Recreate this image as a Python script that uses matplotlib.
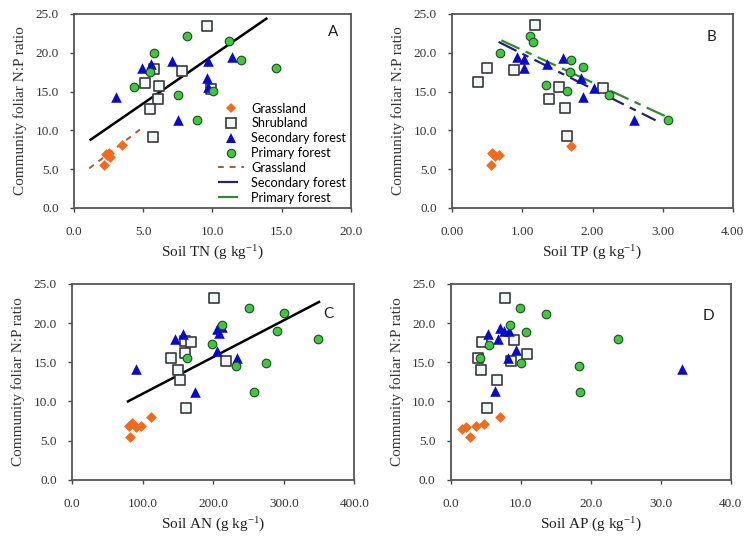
import matplotlib.pyplot as plt
from matplotlib.ticker import FormatStrFormatter
from matplotlib.lines import Line2D

plt.rcParams['font.family'] = ['Liberation Serif', 'DejaVu Serif']
plt.rcParams['mathtext.fontset'] = 'custom'
plt.rcParams['mathtext.rm'] = 'Liberation Serif'
plt.rcParams['mathtext.it'] = 'Liberation Serif:italic'

# panel A - soil TN
a_grass_x = [2.2, 2.3, 2.5, 2.6, 2.4, 3.5]
a_grass_y = [5.5, 6.9, 7.1, 6.6, 6.8, 8.1]
a_shrub_x = [9.6, 5.8, 7.8, 5.1, 6.15, 6.1, 5.5, 5.7, 9.9]
a_shrub_y = [23.4, 17.9, 17.7, 16.1, 15.7, 14.0, 12.8, 9.2, 15.3]
a_sec_x = [3.0, 4.9, 5.6, 7.1, 9.7, 11.4, 9.6, 9.7, 7.5]
a_sec_y = [14.3, 18.0, 18.6, 19.0, 19.0, 19.4, 16.7, 15.6, 11.3]
a_prim_x = [8.2, 11.2, 5.8, 12.1, 14.6, 5.5, 4.3, 7.5, 10.05, 8.9]
a_prim_y = [22.2, 21.5, 20.0, 19.1, 18.1, 17.5, 15.6, 14.5, 15.1, 11.3]
a_all_fit_x = [1.2, 13.9]
a_all_fit_y = [8.8, 24.4]
a_grass_fit_x = [1.1, 4.76]
a_grass_fit_y = [5.1, 10.1]

# panel B - soil TP
b_grass_x = [0.56, 0.58, 0.61, 0.66, 0.55, 1.69]
b_grass_y = [7.1, 6.9, 6.7, 6.8, 5.5, 8.0]
b_shrub_x = [1.18, 0.50, 0.88, 0.37, 1.52, 2.15, 1.38, 1.61, 1.63]
b_shrub_y = [23.6, 18.0, 17.8, 16.2, 15.6, 15.4, 14.1, 12.9, 9.3]
b_sec_x = [0.92, 1.02, 1.02, 1.35, 1.58, 1.84, 1.87, 2.02, 2.59]
b_sec_y = [19.5, 19.2, 18.1, 18.6, 19.3, 16.8, 14.3, 15.5, 11.3]
b_prim_x = [0.68, 1.11, 1.15, 1.69, 1.87, 1.68, 1.33, 1.63, 2.23, 3.07]
b_prim_y = [20.0, 22.2, 21.4, 19.1, 18.2, 17.5, 15.8, 15.1, 14.6, 11.3]
b_sec_fit_x = [0.66, 2.90]
b_sec_fit_y = [21.4, 11.3]
b_prim_fit_x = [0.70, 3.07]
b_prim_fit_y = [21.6, 11.7]

# panel C - soil AN
c_grass_x = [80, 85, 90, 97, 112, 82]
c_grass_y = [6.9, 7.2, 6.7, 6.8, 8.0, 5.5]
c_shrub_x = [201, 160, 169, 160, 139.5, 218, 150, 153, 161]
c_shrub_y = [23.2, 17.7, 17.6, 16.2, 15.5, 15.2, 14.0, 12.7, 9.2]
c_sec_x = [91, 146, 157.5, 205.7, 208.5, 212, 205, 234, 174]
c_sec_y = [14.1, 18.0, 18.6, 19.2, 18.75, 19.5, 16.5, 15.5, 11.2]
c_prim_x = [251, 301, 213, 290, 349, 198, 163, 232, 275, 258]
c_prim_y = [21.9, 21.3, 19.8, 19.0, 18.0, 17.3, 15.5, 14.5, 14.9, 11.2]
c_all_fit_x = [79, 350]
c_all_fit_y = [10.0, 22.7]

# panel D - soil AP
d_grass_x = [1.6, 2.2, 3.6, 4.8, 7.05, 2.7]
d_grass_y = [6.5, 6.7, 6.8, 7.1, 8.0, 5.5]
d_shrub_x = [7.8, 4.5, 9.1, 10.95, 3.9, 8.6, 4.3, 6.6, 5.2]
d_shrub_y = [23.2, 17.6, 17.8, 16.05, 15.5, 15.2, 14.0, 12.7, 9.2]
d_sec_x = [5.3, 7.0, 6.8, 8.3, 7.6, 9.3, 8.2, 6.3, 33.0]
d_sec_y = [18.6, 19.4, 18.0, 19.0, 19.0, 16.6, 15.6, 11.3, 14.2]
d_prim_x = [9.9, 13.6, 8.4, 10.8, 5.5, 4.2, 10.05, 23.9, 18.3, 18.5]
d_prim_y = [21.9, 21.2, 19.8, 18.9, 17.2, 15.5, 14.9, 18.0, 14.5, 11.2]

orange = '#f26b1d'
blue = '#0a0acd'
green = '#3fc83f'
grass_line = '#a65a3c'
sec_line = '#23236e'
prim_line = '#2e8b2e'
long_short = (0, (9, 3, 3, 3))

fig = plt.figure(figsize=(7.46, 5.38), dpi=100)
axA = fig.add_axes([0.0992, 0.6134, 0.371, 0.3606])
axB = fig.add_axes([0.6063, 0.6134, 0.3759, 0.3606])
axC = fig.add_axes([0.0969, 0.1084, 0.378, 0.3638])
axD = fig.add_axes([0.6042, 0.1084, 0.3753, 0.3638])


def points(ax, gx, gy, sx, sy, tx, ty, px, py):
    ax.scatter(gx, gy, marker='D', s=30, color=orange, linewidths=0, zorder=3)
    ax.scatter(sx, sy, marker='s', s=48, facecolor='#f2f8f8', edgecolor='#3a3a3a',
               linewidths=1.2, zorder=3)
    ax.scatter(tx, ty, marker='^', s=58, color=blue, linewidths=0, zorder=3)
    ax.scatter(px, py, marker='o', s=38, facecolor=green, edgecolor='#1d4d1d',
               linewidths=0.8, zorder=3)


def style(ax, xmax, xstep, xfmt, xlabel, letter, lx, ly):
    ax.set_xlim(0, xmax)
    ax.set_ylim(0, 25)
    ax.set_xticks([i * xstep for i in range(int(round(xmax / xstep)) + 1)])
    ax.set_yticks([0, 5, 10, 15, 20, 25])
    ax.xaxis.set_major_formatter(FormatStrFormatter(xfmt))
    ax.yaxis.set_major_formatter(FormatStrFormatter('%.1f'))
    ax.tick_params(direction='out', length=3, width=1, colors='#444444',
                   labelcolor='#333333', labelsize=9.5, pad=8)
    ax.tick_params(axis='x', pad=10)
    for sp in ax.spines.values():
        sp.set_color('#555555')
        sp.set_linewidth(1.3)
    ax.set_xlabel(xlabel, fontsize=11, color='#222222', labelpad=4)
    ax.set_ylabel('Community foliar N:P ratio', fontsize=11, color='#333333', labelpad=6)
    ax.text(lx, ly, letter, transform=ax.transAxes, fontsize=11,
            family=['Lato', 'DejaVu Sans'], color='#222222', ha='center', va='center')


# A
points(axA, a_grass_x, a_grass_y, a_shrub_x, a_shrub_y, a_sec_x, a_sec_y, a_prim_x, a_prim_y)
axA.plot(a_all_fit_x, a_all_fit_y, color='black', lw=1.8, zorder=2)
axA.plot(a_grass_fit_x, a_grass_fit_y, color=grass_line, lw=1.4, ls=(0, (3, 3)), zorder=2)
style(axA, 20, 5, '%.1f', r'Soil TN (g kg$^{-1}$)', 'A', 0.936, 0.907)

handles = [
    Line2D([], [], ls='none', marker='D', ms=5.5, color=orange, mew=0),
    Line2D([], [], ls='none', marker='s', ms=6.5, mfc='#f2f8f8', mec='#3a3a3a', mew=1.2),
    Line2D([], [], ls='none', marker='^', ms=7, color=blue, mew=0),
    Line2D([], [], ls='none', marker='o', ms=6, mfc=green, mec='#1d4d1d', mew=0.8),
    Line2D([], [], color=grass_line, lw=1.4, ls=(0, (3, 3))),
    Line2D([], [], color=sec_line, lw=1.6, ls=long_short),
    Line2D([], [], color=prim_line, lw=1.6, ls=long_short),
]
labels = ['Grassland', 'Shrubland', 'Secondary forest', 'Primary forest',
          'Grassland', 'Secondary forest', 'Primary forest']
axA.legend(handles, labels, loc='lower right', bbox_to_anchor=(1.0, 0.0), frameon=False,
           prop={'family': ['Lato', 'DejaVu Sans'], 'size': 9.2}, labelspacing=0.22,
           handlelength=2.0, handletextpad=0.6, borderpad=0.25, borderaxespad=0.1)

# B
points(axB, b_grass_x, b_grass_y, b_shrub_x, b_shrub_y, b_sec_x, b_sec_y, b_prim_x, b_prim_y)
axB.plot(b_sec_fit_x, b_sec_fit_y, color=sec_line, lw=1.6, ls=long_short, zorder=2)
axB.plot(b_prim_fit_x, b_prim_fit_y, color=prim_line, lw=1.6, ls=long_short, zorder=2)
style(axB, 4, 1, '%.2f', r'Soil TP (g kg$^{-1}$)', 'B', 0.925, 0.883)

# C
points(axC, c_grass_x, c_grass_y, c_shrub_x, c_shrub_y, c_sec_x, c_sec_y, c_prim_x, c_prim_y)
axC.plot(c_all_fit_x, c_all_fit_y, color='black', lw=1.8, zorder=2)
style(axC, 400, 100, '%.1f', r'Soil AN (g kg$^{-1}$)', 'C', 0.907, 0.847)

# D
points(axD, d_grass_x, d_grass_y, d_shrub_x, d_shrub_y, d_sec_x, d_sec_y, d_prim_x, d_prim_y)
style(axD, 40, 10, '%.1f', r'Soil AP (g kg$^{-1}$)', 'D', 0.919, 0.838)

fig.savefig('out.png', dpi=100)
